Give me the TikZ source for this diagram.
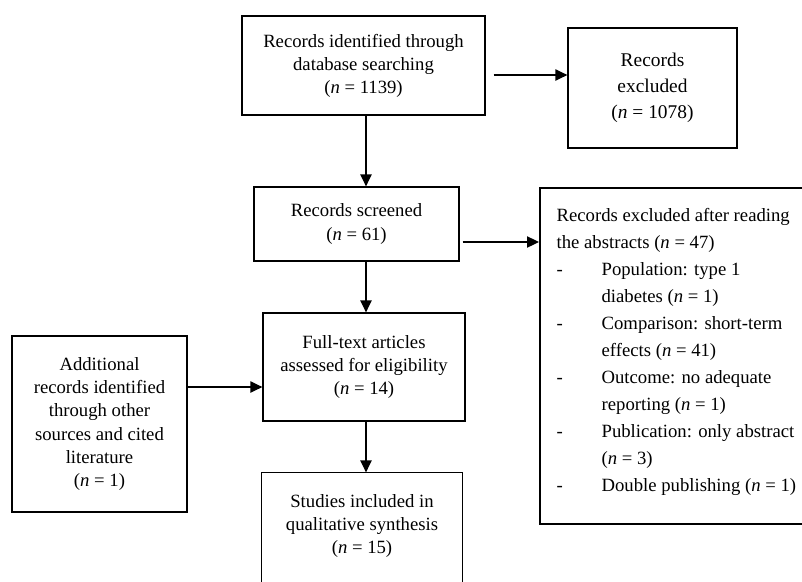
\documentclass[tikz,border=0pt]{standalone}
\usepackage{fontspec}
\setmainfont{Liberation Serif}
\usetikzlibrary{arrows.meta,calc}
\newlength\pix
\setlength\pix{0.025cm}
\newcommand{\itm}{\makebox[45\pix][l]{-}}
\newcommand{\cnt}{\hspace*{45\pix}}
\begin{document}
\begin{tikzpicture}[x=\pix,y=-\pix,>={Triangle[length=8.5pt,width=8pt]},line width=0.9pt,
	box/.style={draw,align=center,inner sep=0pt,font=\fontsize{13.3}{16.4}\selectfont},
	arr/.style={->}]
	\clip (0,0) rectangle (802,581);
	\node[box,minimum width=243\pix,minimum height=99\pix] (ident) at (363.5,65.5) {Records identified through\\database searching\\(\textit{n} = 1139)};
	\node[box,minimum width=169\pix,minimum height=120\pix,font=\fontsize{13.8}{18.5}\selectfont] (excl) at (652.5,88) {Records\\excluded\\(\textit{n} = 1078)};
	\node[box,minimum width=205\pix,minimum height=74\pix] (scr) at (356.5,224) {Records screened\\(\textit{n} = 61)};
	\node[box,minimum width=202\pix,minimum height=108\pix] (full) at (364,367) {Full-text articles\\assessed for eligibility\\(\textit{n} = 14)};
	\node[box,minimum width=175\pix,minimum height=176\pix] (add) at (99.5,424) {Additional\\records identified\\through other\\sources and cited\\literature\\(\textit{n} = 1)};
	\node[box,draw=none,minimum width=200\pix,minimum height=106\pix] (stud) at (362,526) {Studies included in\\qualitative synthesis\\(\textit{n} = 15)};
	\draw ($(stud.south west)+(0,20)$) -- (stud.north west) -- (stud.north east) -- ($(stud.south east)+(0,20)$);
	\node[draw,line width=1.2pt,minimum width=300\pix,minimum height=336\pix,anchor=north west] (absbox) at (539,187) {};
	\node[align=left,inner sep=0pt,anchor=north west,font=\fontsize{13.3}{19.2}\selectfont] (abslist) at (556,208) {Records excluded after reading\\
		the abstracts (\textit{n} = 47)\\
		\itm Population: type 1\\
		\cnt diabetes (\textit{n} = 1)\\
		\itm Comparison: short-term\\
		\cnt effects (\textit{n} = 41)\\
		\itm Outcome: no adequate\\
		\cnt reporting (\textit{n} = 1)\\
		\itm Publication: only abstract\\
		\cnt (\textit{n} = 3)\\
		\itm Double publishing (\textit{n} = 1)};
	\coordinate (col) at (366,0);
	\draw[arr] (ident.south -| col) -- (scr.north -| col);
	\draw[arr] (scr.south -| col) -- (full.north -| col);
	\draw[arr] (full.south -| col) -- (stud.north -| col);
	\path ($(ident.east)+(8,9.5)$) coordinate (a1) ($(scr.east)+(3,18)$) coordinate (a2) ($(add.east)+(0,-37)$) coordinate (a3);
	\draw[arr] (a1) -- (a1 -| excl.west);
	\draw[arr] (a2) -- (a2 -| absbox.west);
	\draw[arr] (a3) -- (a3 -| full.west);
\end{tikzpicture}
\end{document}
